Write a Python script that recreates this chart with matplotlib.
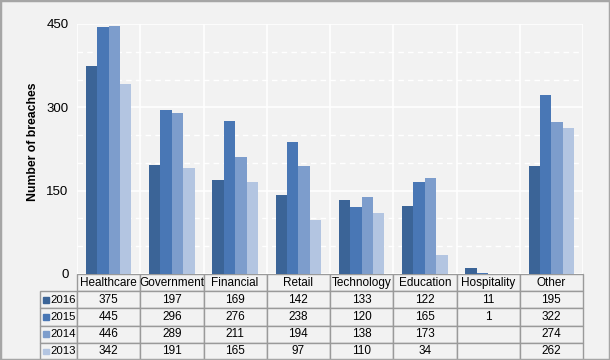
import numpy as np
from matplotlib import pyplot as plt
from matplotlib.patches import Rectangle

plt.rcParams['font.family'] = ['Liberation Sans', 'DejaVu Sans']

categories = ['Healthcare', 'Government', 'Financial', 'Retail', 'Technology',
              'Education', 'Hospitality', 'Other']
years = ['2016', '2015', '2014', '2013']
v2016 = [375, 197, 169, 142, 133, 122, 11, 195]
v2015 = [445, 296, 276, 238, 120, 165, 1, 322]
v2014 = [446, 289, 211, 194, 138, 173, None, 274]
v2013 = [342, 191, 165, 97, 110, 34, None, 262]
series = [v2016, v2015, v2014, v2013]
colors = ['#3b6497', '#4977b5', '#7d9dcc', '#b3c5e1']

bg = '#f2f2f2'
fig = plt.figure(figsize=(6.1, 3.6), dpi=100, facecolor=bg)
ax = fig.add_axes([77/610, 86/360, 506/610, 250/360], facecolor=bg)

x = np.arange(len(categories))
w = 0.18
offs = [-1.5*w, -0.5*w, 0.5*w, 1.5*w]
for vals, c, o in zip(series, colors, offs):
    h = [np.nan if v is None else v for v in vals]
    ax.bar(x + o, h, width=w, color=c, zorder=3)

ax.set_xlim(-0.5, len(categories) - 0.5)
ax.set_ylim(0, 450)
ax.set_yticks([0, 150, 300, 450])
ax.set_yticks([50, 100, 200, 250, 350, 400], minor=True)
ax.yaxis.grid(True, which='major', color='white', lw=1.2, zorder=1)
ax.yaxis.grid(True, which='minor', color='white', lw=1.0, ls=(0, (4, 3)), zorder=1)
for b in np.arange(-0.5, len(categories), 1):
    ax.axvline(b, color='white', lw=1.2, zorder=1)
ax.tick_params(axis='y', which='both', length=0, pad=6, labelsize=9.5)
ax.tick_params(axis='x', length=0, labelbottom=False)
for s in ax.spines.values():
    s.set_visible(False)
ax.set_ylabel('Number of breaches', fontsize=8.8, fontweight='bold')
ax.yaxis.set_label_coords(-0.076, 0.53)

# data table under the plot
cell_text = [[''] + categories]
for yr, vals in zip(years, series):
    cell_text.append([yr] + ['' if v is None else str(v) for v in vals])
lw_col = 37 / 506
cat_w = 1.0 / len(categories)
col_widths = [lw_col] + [cat_w] * len(categories)
row_h = 17.2 / 250
tbl = ax.table(cellText=cell_text, colWidths=col_widths, cellLoc='center',
               bbox=[-lw_col, -5 * row_h, 1 + lw_col, 5 * row_h])
tbl.auto_set_font_size(False)
tbl.set_fontsize(8.5)
for (r, c), cell in tbl.get_celld().items():
    cell.set_facecolor(bg)
    cell.set_edgecolor('#9a9a9a')
    cell.set_linewidth(1.0)
    if r == 0 and c == 0:
        cell.visible_edges = ''
    if c == 0 and r > 0:
        cell._loc = 'right'
        cell.get_text().set_ha('right')
        cell.get_text().set_fontsize(8.2)
        cell.PAD = 0.03
tbl.set_clip_on(False)

# legend squares in row label cells
sq = 5.5
for i, c in enumerate(colors):
    yc = -(i + 1.5) * row_h
    ax.add_patch(Rectangle((-lw_col + 3/506, yc - (sq/2)/250), sq/506, sq/250,
                           transform=ax.transAxes, color=c, clip_on=False, zorder=5))

# figure border
fig.add_artist(Rectangle((0, 0), 1, 1, transform=fig.transFigure, fill=False,
                         edgecolor='#a6a6a6', lw=2.5))

fig.savefig('out.png', dpi=100, facecolor=bg)
